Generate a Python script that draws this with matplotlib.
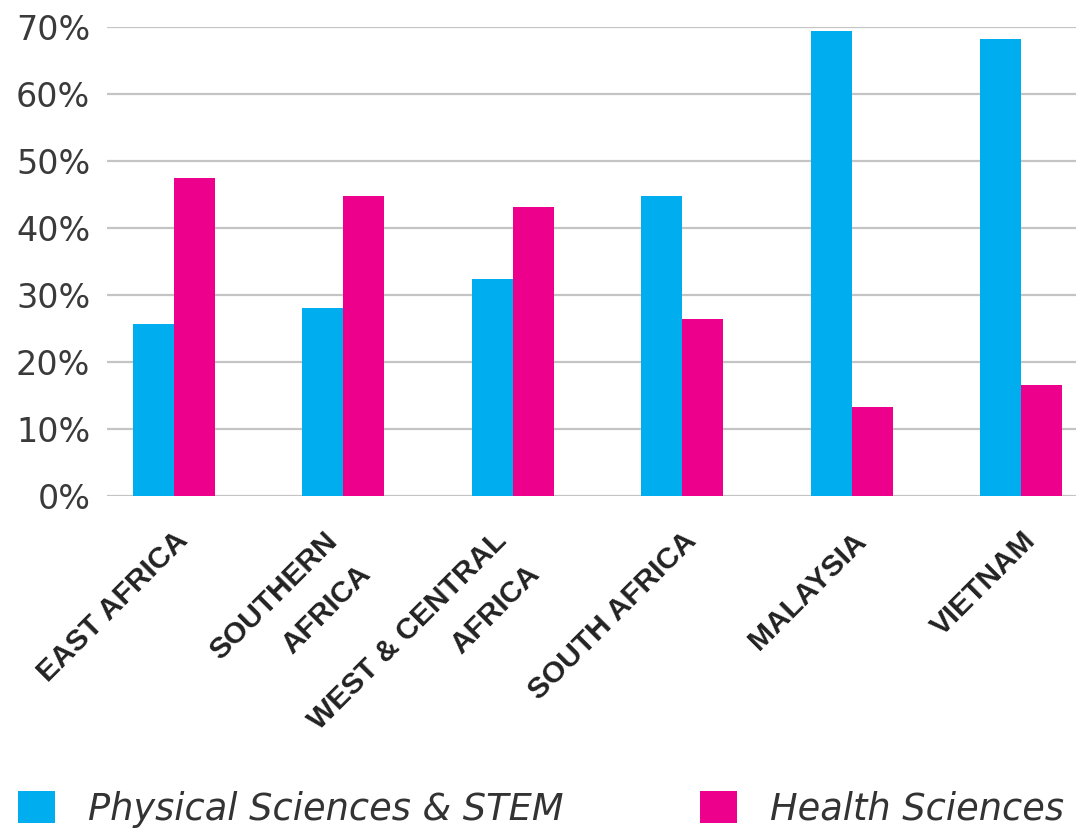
import matplotlib.pyplot as plt
import matplotlib.transforms as mtransforms
import numpy as np

plt.rcParams['font.family'] = ['Liberation Sans', 'DejaVu Sans']

# data
regions = ['EAST AFRICA', 'SOUTHERN\nAFRICA', 'WEST & CENTRAL\nAFRICA',
           'SOUTH AFRICA', 'MALAYSIA', 'VIETNAM']
stem = [25.7, 28.1, 32.4, 44.8, 69.4, 68.2]
health = [47.5, 44.8, 43.1, 26.4, 13.3, 16.6]
yticks = [0, 10, 20, 30, 40, 50, 60, 70]

blue = '#00aeef'
pink = '#ec008c'

fig = plt.figure(figsize=(10.76, 8.31), dpi=100)
ax = fig.add_axes([0.0994, 0.403, 0.9006, 0.565])

x = np.arange(len(regions))
w = 0.242
b1 = ax.bar(x - w / 2, stem, w, color=blue, label='Physical Sciences & STEM', zorder=3)
b2 = ax.bar(x + w / 2, health, w, color=pink, label='Health Sciences', zorder=3)

ax.set_xlim(-0.395, 5.325)
ax.set_ylim(0, 70)
ax.set_yticks(yticks)
ax.set_yticklabels([f'{v}%' for v in yticks], fontsize=24, color='#3a3a3a',
                   family='DejaVu Sans')
ax.yaxis.grid(True, color='#c4c4c4', linewidth=1.6, zorder=0)
ax.tick_params(axis='both', length=0)
ax.tick_params(axis='y', pad=12)
for s in ax.spines.values():
    s.set_visible(False)

ax.set_xticks(x)
ax.set_xticklabels(regions, rotation=45, ha='right', rotation_mode='anchor',
                   fontsize=21.5, fontweight='bold', color='#222222',
                   multialignment='right', linespacing=1.85)
ax.tick_params(axis='x', pad=22)
# two-line labels sit a little further left
for lbl in ax.get_xticklabels():
    if '\n' in lbl.get_text():
        lbl.set_transform(lbl.get_transform() +
                          mtransforms.ScaledTranslation(-0.2, 0, fig.dpi_scale_trans))

fig.legend(handles=[b1, b2], loc='lower left', bbox_to_anchor=(0.0167, 0.004),
           ncol=2, frameon=False,
           prop={'family': 'DejaVu Sans', 'size': 26.5, 'style': 'italic'},
           handlelength=1.0, handleheight=0.92, handletextpad=0.9,
           columnspacing=3.7, labelcolor='#333333', borderpad=0, borderaxespad=0)

fig.savefig('out.png', dpi=100)
